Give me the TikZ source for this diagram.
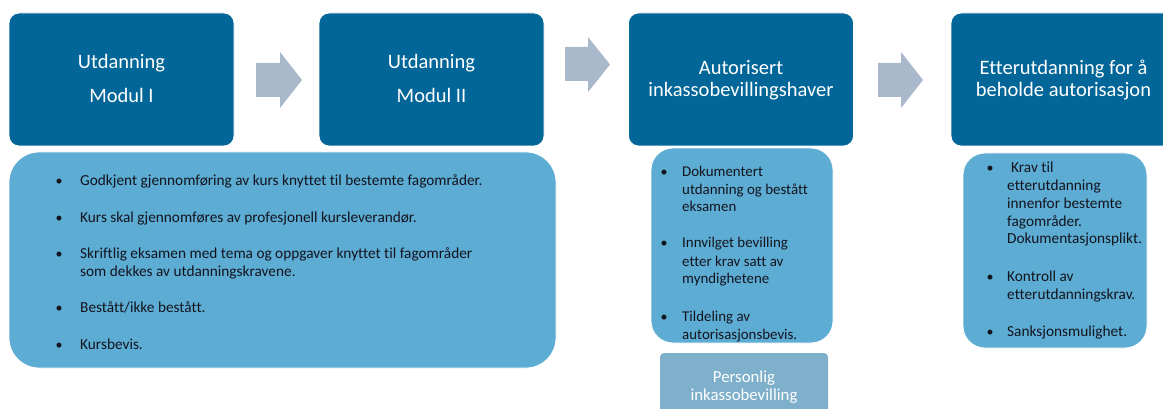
\documentclass[tikz,border=0pt]{standalone}
\usepackage{fontspec}
\setmainfont{Carlito}[Ligatures=NoCommon]
\definecolor{darkbox}{RGB}{2,102,152}
\definecolor{lightbox}{RGB}{92,172,211}
\definecolor{arrowc}{RGB}{170,184,203}
\definecolor{persbox}{RGB}{126,175,203}
\definecolor{bodytxt}{RGB}{20,20,30}
\tikzset{
  head/.style={draw=white, line width=0.8pt, fill=darkbox, rounded corners=10pt, inner sep=0pt},
  sub/.style={draw=white, line width=0.8pt, fill=lightbox, inner sep=0pt},
  pers/.style={fill=persbox, rounded corners=4pt, inner sep=0pt},
  htxt/.style={anchor=base, text=white, font=\fontsize{20.5}{24}\selectfont, inner sep=0pt},
  btxt/.style={anchor=base west, text=bodytxt, font=\fontsize{15.3}{18}\selectfont, inner sep=0pt},
  ctxt/.style={anchor=base west, text=bodytxt, font=\fontsize{14.9}{18}\selectfont, inner sep=0pt},
  bul/.style={anchor=base, text=bodytxt, font=\fontsize{14}{17}\selectfont, inner sep=0pt},
  ptxt/.style={anchor=base, text=white, font=\fontsize{16.8}{20}\selectfont, inner sep=0pt},
  blk/.style={fill=arrowc}
}
\begin{document}
\begin{tikzpicture}[x=1pt,y=-1pt]
\useasboundingbox (0,0) rectangle (1163,409);
\fill[white] (0,0) rectangle (1163,409);
\clip (0,0) rectangle (1163,409);
% header boxes
\node[head, minimum width=225pt, minimum height=133pt] (h1) at (121.5,79.5) {};
\node[head, minimum width=225pt, minimum height=133pt] (h2) at (431.5,79.5) {};
\node[head, minimum width=225pt, minimum height=133pt] (h3) at (741,79.5) {};
\node[head, minimum width=225pt, minimum height=133pt] (h4) at (1063.5,79.5) {};
\node[htxt] (h1a) at (121.5,69) {Utdanning};
\node[htxt] (h1b) at (121.5,103) {Modul I};
\node[htxt] (h2a) at (431.5,69) {Utdanning};
\node[htxt] (h2b) at (431.5,103) {Modul II};
\node[htxt] (h3a) at (741,75) {Autorisert};
\node[htxt] (h3b) at (741,97) {inkassobevillingshaver};
\node[htxt] (h4a) at (1063.5,75) {Etterutdanning for å};
\node[htxt] (h4b) at (1063.5,97) {beholde autorisasjon};
% block arrows
\fill[blk] (256,63) -- (280,63) -- (280,52) -- (302,80) -- (280,108) -- (280,97) -- (256,97) -- cycle;
\fill[blk] (565,47) -- (588,47) -- (588,37) -- (610,64.5) -- (588,92) -- (588,81) -- (565,81) -- cycle;
\fill[blk] (878,63) -- (901,63) -- (901,52) -- (923,80) -- (901,108) -- (901,97) -- (878,97) -- cycle;
% sub boxes
\node[sub, rounded corners=30pt, minimum width=547pt, minimum height=216pt] (s1) at (282.5,260) {};
\node[sub, rounded corners=22pt, minimum width=182pt, minimum height=195pt] (s3) at (742,245.5) {};
\node[sub, rounded corners=22pt, minimum width=184pt, minimum height=195pt] (s4) at (1055,250.5) {};
\node[pers, minimum width=168pt, minimum height=70pt] (p3) at (744,388) {};
% box 1 bullets
\node[bul] (s1b1) at (59,185.5) {•};
\node[btxt] (s1t1) at (80,185.5) {Godkjent gjennomføring av kurs knyttet til bestemte fagområder.};
\node[bul] (s1b2) at (59,222.5) {•};
\node[btxt] (s1t2) at (80,222.5) {Kurs skal gjennomføres av profesjonell kursleverandør.};
\node[bul] (s1b3) at (59,258.5) {•};
\node[btxt] (s1t3) at (80,258.5) {Skriftlig eksamen med tema og oppgaver knyttet til fagområder};
\node[btxt] (s1t3b) at (80,276.5) {som dekkes av utdanningskravene.};
\node[bul] (s1b4) at (59,312.5) {•};
\node[btxt] (s1t4) at (80,312.5) {Bestått/ikke bestått.};
\node[bul] (s1b5) at (59,349.5) {•};
\node[btxt] (s1t5) at (80,349.5) {Kursbevis.};
% box 3 bullets
\node[bul] (s3b1) at (664,176.5) {•};
\node[ctxt] (s3t1) at (682,176.5) {Dokumentert};
\node[ctxt] (s3t1b) at (682,194.5) {utdanning og bestått};
\node[ctxt] (s3t1c) at (682,211.5) {eksamen};
\node[bul] (s3b2) at (664,247.5) {•};
\node[ctxt] (s3t2) at (682,247.5) {Innvilget bevilling};
\node[ctxt] (s3t2b) at (682,266) {etter krav satt av};
\node[ctxt] (s3t2c) at (682,283.5) {myndighetene};
\node[bul] (s3b3) at (664,321.5) {•};
\node[ctxt] (s3t3) at (682,321.5) {Tildeling av};
\node[ctxt] (s3t3b) at (682,339.5) {autorisasjonsbevis.};
% personlig
\node[ptxt] (p3a) at (744,382.5) {Personlig};
\node[ptxt] (p3b) at (744,400.5) {inkassobevilling};
% box 4 bullets
\node[bul] (s4b1) at (990,172.5) {•};
\node[btxt] (s4t1) at (1011,172.5) {Krav til};
\node[btxt] (s4t1b) at (1007,191) {etterutdanning};
\node[btxt] (s4t1c) at (1007,208.5) {innenfor bestemte};
\node[btxt] (s4t1d) at (1007,226.5) {fagområder.};
\node[btxt] (s4t1e) at (1007,243.5) {Dokumentasjonsplikt.};
\node[bul] (s4b2) at (990,281.5) {•};
\node[btxt] (s4t2) at (1007,281.5) {Kontroll av};
\node[btxt] (s4t2b) at (1007,299.5) {etterutdanningskrav.};
\node[bul] (s4b3) at (990,336.5) {•};
\node[btxt] (s4t3) at (1007,336.5) {Sanksjonsmulighet.};
\end{tikzpicture}
\end{document}
